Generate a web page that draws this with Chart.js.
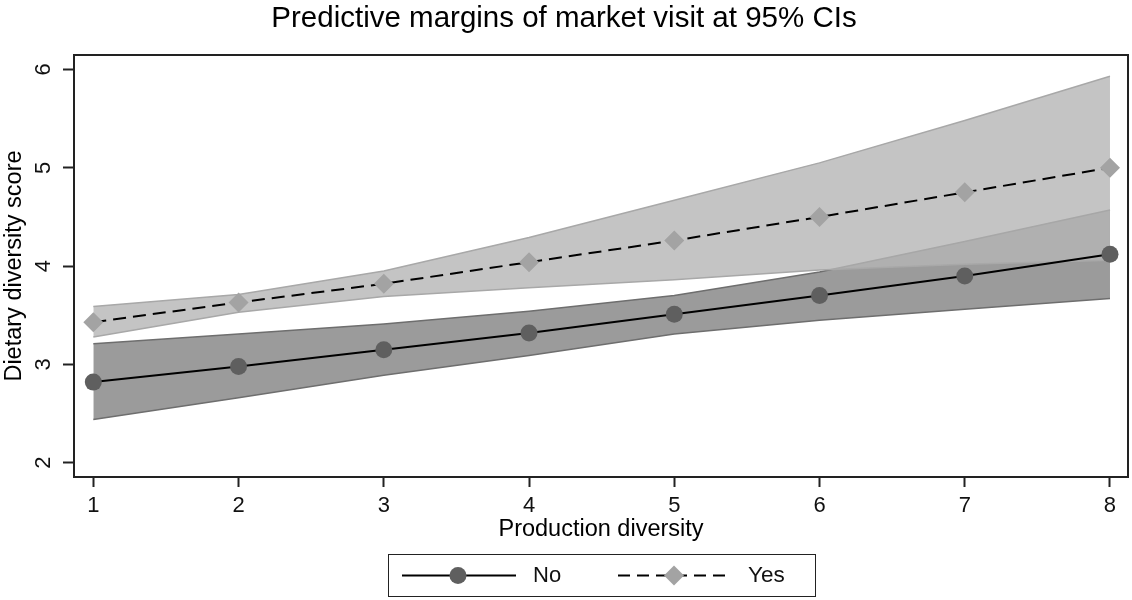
<!DOCTYPE html>
<html>
<head>
<meta charset="utf-8">
<title>Predictive margins of market visit</title>
<script src="https://cdn.jsdelivr.net/npm/chart.js@4.4.1/dist/chart.umd.min.js"></script>
<style>
  body { margin: 0; background: #fff; font-family: "Liberation Sans", Arial, sans-serif; }
  .wrap { position: relative; width: 1132px; height: 600px; }
  .legend {
    position: absolute; left: 388px; top: 554px; width: 428px; height: 43px;
    box-sizing: border-box; border: 1.5px solid #222;
  }
  .legend svg { position: absolute; left: 0; top: 0; }
  .legend span { position: absolute; top: 7px; font-size: 22px; line-height: 26px; color: #111; }
</style>
</head>
<body>
<div class="wrap">
  <canvas id="marginsChart" width="1132" height="600"></canvas>
  <div class="legend">
    <svg width="425" height="40">
      <line x1="13" y1="20.5" x2="127" y2="20.5" stroke="#000" stroke-width="2"/>
      <circle cx="69" cy="20.5" r="8.5" fill="#5f5f5f"/>
      <line x1="229" y1="20.5" x2="342" y2="20.5" stroke="#000" stroke-width="2" stroke-dasharray="12 7"/>
      <polygon points="285,10.5 295,20.5 285,30.5 275,20.5" fill="#a3a3a3"/>
    </svg>
    <span style="left:144px">No</span>
    <span style="left:359px; font-size:22.5px">Yes</span>
  </div>
</div>

<script>
// x axis: production diversity
const diversity = [1, 2, 3, 4, 5, 6, 7, 8];
const yTickValues = [2, 3, 4, 5, 6];

// market visit = No (margin + 95% CI)
const noMargin = [2.82, 2.98, 3.15, 3.32, 3.51, 3.70, 3.90, 4.12];
const noUpper = [3.21, 3.31, 3.41, 3.54, 3.70, 3.94, 4.25, 4.57];
const noLower = [2.44, 2.66, 2.89, 3.09, 3.31, 3.45, 3.56, 3.67];

// market visit = Yes (margin + 95% CI)
const yesMargin = [3.43, 3.63, 3.82, 4.04, 4.26, 4.50, 4.75, 5.00];
const yesUpper = [3.59, 3.71, 3.95, 4.29, 4.67, 5.05, 5.48, 5.93];
const yesLower = [3.28, 3.53, 3.69, 3.78, 3.86, 3.96, 4.02, 4.06];

function toPoints(values) {
  return diversity.map((x, i) => ({ x: x, y: values[i] }));
}

// box around the plot region (Stata style frame)
const frameBox = {
  id: "frameBox",
  afterDatasetsDraw(chart) {
    const a = chart.chartArea;
    const ctx = chart.ctx;
    ctx.save();
    ctx.strokeStyle = "#222";
    ctx.lineWidth = 2;
    ctx.strokeRect(a.left, a.top, a.right - a.left, a.bottom - a.top);
    ctx.restore();
  }
};

Chart.defaults.font.family = '"Liberation Sans", Arial, sans-serif';

new Chart(document.getElementById("marginsChart"), {
  type: "line",
  data: {
    datasets: [
      // CI bands first, drawn below the lines (higher order = drawn earlier)
      {
        label: "No upper", data: toPoints(noUpper),
        borderColor: "#6e6e6e", borderWidth: 1.5,
        backgroundColor: "#9b9b9b", fill: "+1",
        pointRadius: 0, order: 6
      },
      {
        label: "No lower", data: toPoints(noLower),
        borderColor: "#6e6e6e", borderWidth: 1.5,
        fill: false, pointRadius: 0, order: 5
      },
      {
        label: "Yes upper", data: toPoints(yesUpper),
        borderColor: "#a8a8a8", borderWidth: 1.5,
        backgroundColor: "rgba(181, 181, 181, 0.8)", fill: "+1",
        pointRadius: 0, order: 4
      },
      {
        label: "Yes lower", data: toPoints(yesLower),
        borderColor: "#a8a8a8", borderWidth: 1.5,
        fill: false, pointRadius: 0, order: 3
      },
      {
        label: "No", data: toPoints(noMargin),
        borderColor: "#000", borderWidth: 2, fill: false,
        pointStyle: "circle", pointRadius: 8.5,
        pointBackgroundColor: "#5f5f5f", pointBorderWidth: 0,
        order: 2
      },
      {
        label: "Yes", data: toPoints(yesMargin),
        borderColor: "#000", borderWidth: 2, borderDash: [13, 7], fill: false,
        pointStyle: "rectRot", pointRadius: 10,
        pointBackgroundColor: "#a3a3a3", pointBorderWidth: 0,
        order: 1
      }
    ]
  },
  options: {
    responsive: false,
    animation: false,
    // no auto padding for the big markers, the frame leaves room already
    layout: { autoPadding: false, padding: { left: 0, right: 4, top: 0, bottom: 55 } },
    plugins: {
      legend: { display: false },
      tooltip: { enabled: false },
      title: {
        display: true,
        text: "Predictive margins of market visit at 95% CIs",
        color: "#000",
        font: { size: 29.5, weight: "normal" },
        padding: { top: 1, bottom: 18.6 }
      }
    },
    scales: {
      x: {
        type: "linear",
        min: 0.867,
        max: 8.124,
        afterBuildTicks: (axis) => { axis.ticks = diversity.map(v => ({ value: v })); },
        afterFit: (scale) => { scale.height = 68; },
        border: { display: false },
        grid: { drawOnChartArea: false, tickLength: 10, tickWidth: 2, tickColor: "#222" },
        ticks: { color: "#111", font: { size: 22 }, padding: 6, maxRotation: 0 },
        title: {
          display: true, text: "Production diversity", color: "#000",
          font: { size: 23.5 }, padding: { top: 0, bottom: 1 }
        }
      },
      y: {
        type: "linear",
        min: 1.855,
        max: 6.147,
        afterBuildTicks: (axis) => { axis.ticks = yTickValues.map(v => ({ value: v })); },
        afterFit: (scale) => { scale.width = 74; },
        border: { display: false },
        grid: { drawOnChartArea: false, tickLength: 11, tickWidth: 2, tickColor: "#222" },
        ticks: {
          color: "#111", font: { size: 22 }, padding: 13,
          minRotation: 90, maxRotation: 90, crossAlign: "center"
        },
        title: {
          display: true, text: "Dietary diversity score", color: "#000",
          font: { size: 23.5 }, padding: { top: 0, bottom: 0 }
        }
      }
    }
  },
  plugins: [frameBox]
});
</script>
</body>
</html>
